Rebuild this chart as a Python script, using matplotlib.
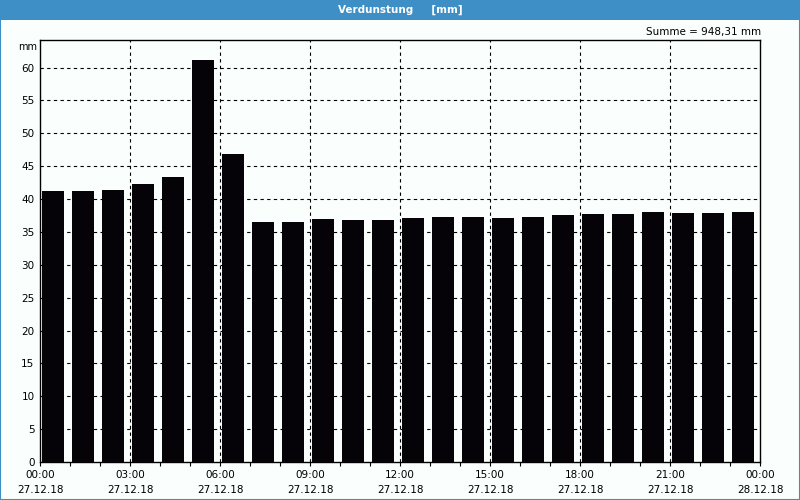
import matplotlib
matplotlib.use("Agg")
from matplotlib import pyplot as plt
from matplotlib.patches import Rectangle

# hourly evaporation values, 27.12.18 00:00 - 23:00
hours = list(range(24))
values = [41.25, 41.25, 41.4, 42.3, 43.4, 61.2, 46.9, 36.5,
          36.5, 36.95, 36.85, 36.85, 37.15, 37.3, 37.3, 37.15,
          37.3, 37.6, 37.75, 37.75, 38.05, 37.9, 37.9, 38.05]

xtick_pos = [0, 3, 6, 9, 12, 15, 18, 21, 24]
xtick_labels = ["00:00\n27.12.18", "03:00\n27.12.18", "06:00\n27.12.18",
                "09:00\n27.12.18", "12:00\n27.12.18", "15:00\n27.12.18",
                "18:00\n27.12.18", "21:00\n27.12.18", "00:00\n28.12.18"]
yticks = list(range(0, 65, 5))

title = "Verdunstung     [mm]"
summe = "Summe = 948,31 mm"

bg = "#fafefc"
blue = "#3d8fc6"
plt.rcParams["font.family"] = ["DejaVu Sans"]

fig = plt.figure(figsize=(8, 5), dpi=100, facecolor=bg)

# window frame and title bar
fig.patches.append(Rectangle((0, 0), 1, 1, transform=fig.transFigure,
                             fill=False, edgecolor=blue, lw=1.5))
fig.patches.append(Rectangle((0, 0.96), 1, 0.04, transform=fig.transFigure,
                             facecolor=blue, edgecolor="none"))
fig.text(0.5, 0.98, title, color="white", fontsize=7.5, fontweight="bold",
         ha="center", va="center")

ax = fig.add_axes([0.05, 0.076, 0.9, 0.844], facecolor=bg)
ax.bar([h + 0.05 for h in hours], values, width=0.735, align="edge",
       color="#050308", zorder=3)

ax.set_xlim(0, 24)
ax.set_ylim(0, 64.2)
ax.set_xticks(xtick_pos)
ax.set_xticklabels(xtick_labels, fontsize=7.5, linespacing=1.6)
ax.set_xticks(hours + [24], minor=True)
ax.set_yticks(yticks)
ax.set_yticklabels([str(v) for v in yticks], fontsize=7.5)
ax.tick_params(axis="x", which="both", direction="out", length=3, width=0.8,
               pad=3, color="black")
ax.tick_params(axis="y", length=0, pad=4)

# dashed grid (not on the frame)
for x in xtick_pos[1:-1]:
    ax.axvline(x, color="black", lw=0.8, linestyle=(0, (3, 3)), zorder=1)
for y in yticks[1:]:
    ax.axhline(y, color="black", lw=0.8, linestyle=(0, (3, 3)), zorder=1)

for s in ax.spines.values():
    s.set_linewidth(1)
    s.set_color("black")

fig.text(0.046, 0.906, "mm", fontsize=7, ha="right", va="center")
fig.text(0.952, 0.936, summe, fontsize=7.5, ha="right", va="center")

plt.savefig("out.png", dpi=100, facecolor=bg)
